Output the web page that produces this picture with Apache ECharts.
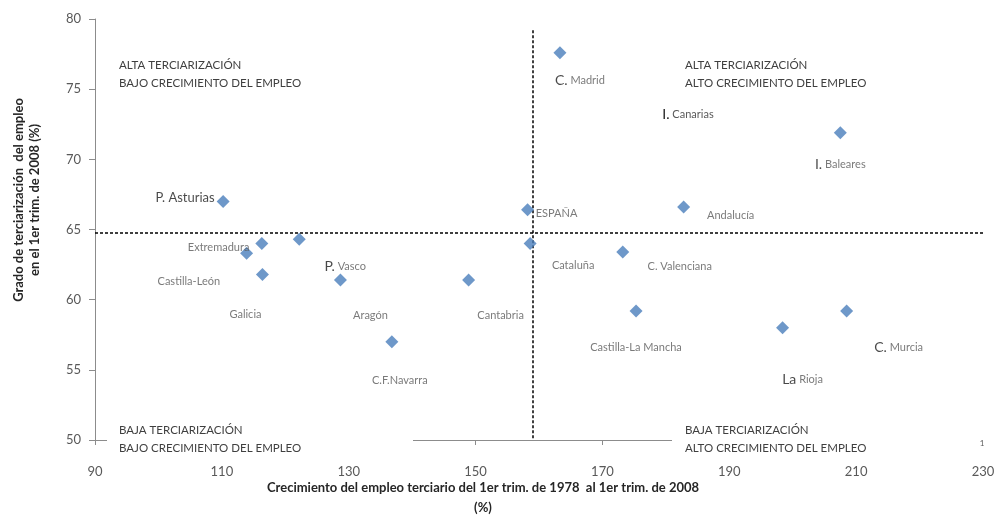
<!DOCTYPE html>
<html>
<head>
<meta charset="utf-8">
<script src="https://cdn.jsdelivr.net/npm/echarts@6/dist/echarts.min.js"></script>
<style>
  html, body { margin: 0; padding: 0; background: #fff; }
  #chart { width: 1003px; height: 527px; }
</style>
</head>
<body>
<div id="chart"></div>
<script>
// datos
const regions = ['C. Madrid', 'I. Baleares', 'ESPAÑA', 'Andalucía', 'Cataluña', 'C. Valenciana',
  'P. Asturias', 'Extremadura', 'Castilla-León', 'P. Vasco', 'Galicia', 'Aragón', 'Cantabria',
  'C.F.Navarra', 'Castilla-La Mancha', 'La Rioja', 'C. Murcia'];
const growth = [163.3, 207.5, 158.2, 182.8, 158.6, 173.2, 110.2, 113.9, 116.3, 122.2, 116.4,
  128.7, 148.9, 136.8, 175.3, 198.4, 208.5];
const tertiary = [77.6, 71.9, 66.4, 66.6, 64.0, 63.4, 67.0, 63.3, 64.0, 64.3, 61.8, 61.4, 61.4,
  57.0, 59.2, 58.0, 59.2];

// líneas de referencia
const refGrowth = 159;
const refTertiary = 64.8;

// posición de cada etiqueta respecto a su punto (px)
const labelOffsets = {
  'C. Madrid': [20, 28], 'I. Baleares': [0, 32], 'ESPAÑA': [29, 4], 'Andalucía': [47, 8],
  'Cataluña': [43, 22], 'C. Valenciana': [57, 14], 'P. Asturias': [-38, -4],
  'Extremadura': [-28, -6], 'Castilla-León': [-73, 38], 'P. Vasco': [46, 27],
  'Galicia': [-17, 40], 'Aragón': [30, 35], 'Cantabria': [32, 35], 'C.F.Navarra': [8, 39],
  'Castilla-La Mancha': [0, 37], 'La Rioja': [20, 52], 'C. Murcia': [52, 37]
};
// primeras letras más grandes en algunas etiquetas
const bigPrefix = { 'C. Madrid': 'C.', 'I. Baleares': 'I.', 'La Rioja': 'La', 'C. Murcia': 'C.', 'P. Vasco': 'P.' };

const FONT = 'Lato, "DejaVu Sans", sans-serif';

const chart = echarts.init(document.getElementById('chart'));

const points = regions.map((name, i) => {
  const off = labelOffsets[name] || [0, 0];
  let fmt = name;
  if (name === 'P. Asturias') fmt = '{all|' + name + '}';
  else if (bigPrefix[name]) fmt = '{big|' + bigPrefix[name] + '}' + name.slice(bigPrefix[name].length);
  return {
    name: name,
    value: [growth[i], tertiary[i]],
    label: { offset: off, formatter: fmt }
  };
});

const quadText = (x, y, text) => ({
  type: 'text', x: x, y: y, z: 101,
  style: { text: text, font: '11.5px ' + FONT, fill: '#3f3f3f', lineHeight: 18.5 }
});

const option = {
  backgroundColor: '#fff',
  animation: false,
  grid: { left: 95, right: 20, top: 19, bottom: 87 },
  xAxis: {
    type: 'value', min: 90, max: 230, interval: 20,
    splitLine: { show: false },
    axisLine: { lineStyle: { color: '#8c8c8c', width: 1 } },
    axisTick: { show: true, length: 5, lineStyle: { color: '#8c8c8c' } },
    axisLabel: { fontFamily: FONT, fontSize: 13, color: '#595959', margin: 25 }
  },
  yAxis: {
    type: 'value', min: 50, max: 80, interval: 5,
    splitLine: { show: false },
    axisLine: { show: true, lineStyle: { color: '#8c8c8c', width: 1 } },
    axisTick: { show: true, length: 6, lineStyle: { color: '#8c8c8c' } },
    axisLabel: { fontFamily: FONT, fontSize: 13, color: '#595959', margin: 14 }
  },
  series: [{
    type: 'scatter',
    symbol: 'diamond',
    symbolSize: 13,
    itemStyle: { color: '#4a7ebb' },
    data: points,
    label: {
      show: true,
      position: 'inside',
      align: 'center',
      verticalAlign: 'middle',
      fontFamily: FONT,
      fontSize: 11,
      color: '#595959',
      rich: {
        big: { fontFamily: FONT, fontSize: 14, color: '#1a1a1a' },
        all: { fontFamily: FONT, fontSize: 13, color: '#1a1a1a' }
      }
    },
    markLine: {
      silent: true,
      symbol: 'none',
      label: { show: false },
      lineStyle: { color: '#000', type: [3, 2], width: 1.5 },
      data: [
        [{ coord: [refGrowth, 79.2] }, { coord: [refGrowth, 50] }],
        [{ coord: [90, refTertiary] }, { coord: [230, refTertiary] }]
      ]
    },
    z: 5
  }],
  graphic: [
    // tapas blancas que ocultan parte del eje X
    { type: 'rect', shape: { x: 107, y: 419, width: 306, height: 44 }, style: { fill: '#fff' }, z: 100 },
    { type: 'rect', shape: { x: 672, y: 419, width: 331, height: 44 }, style: { fill: '#fff' }, z: 100 },
    quadText(119, 56, 'ALTA TERCIARIZACIÓN\nBAJO CRECIMIENTO DEL EMPLEO'),
    quadText(685, 56, 'ALTA TERCIARIZACIÓN\nALTO CRECIMIENTO DEL EMPLEO'),
    quadText(119, 421, 'BAJA TERCIARIZACIÓN\nBAJO CRECIMIENTO DEL EMPLEO'),
    quadText(685, 421, 'BAJA TERCIARIZACIÓN\nALTO CRECIMIENTO DEL EMPLEO'),
    { type: 'text', x: 982, y: 443, z: 101,
      style: { text: '1', font: '8px ' + FONT, fill: '#595959', align: 'center', verticalAlign: 'middle' } },
    // etiqueta sin punto visible
    { type: 'text', x: 688, y: 114, z: 101,
      style: {
        text: '{big|I.}{n| Canarias}',
        align: 'center', verticalAlign: 'middle',
        rich: {
          big: { fontFamily: FONT, fontSize: 14, fill: '#1a1a1a' },
          n: { fontFamily: FONT, fontSize: 11, fill: '#595959' }
        }
      } },
    // títulos de los ejes
    { type: 'text', x: 483, y: 498, z: 101,
      style: {
        text: 'Crecimiento del empleo terciario del 1er trim. de 1978  al 1er trim. de 2008\n(%)',
        font: 'bold 13px ' + FONT, fill: '#262626', align: 'center', verticalAlign: 'middle', lineHeight: 20
      } },
    { type: 'text', x: 27, y: 200, rotation: Math.PI / 2, z: 101,
      style: {
        text: 'Grado de terciarización  del empleo\nen el 1er trim. de 2008 (%)',
        font: 'bold 13px ' + FONT, fill: '#262626', align: 'center', verticalAlign: 'middle', lineHeight: 16
      } }
  ]
};

chart.setOption(option);
</script>
</body>
</html>
